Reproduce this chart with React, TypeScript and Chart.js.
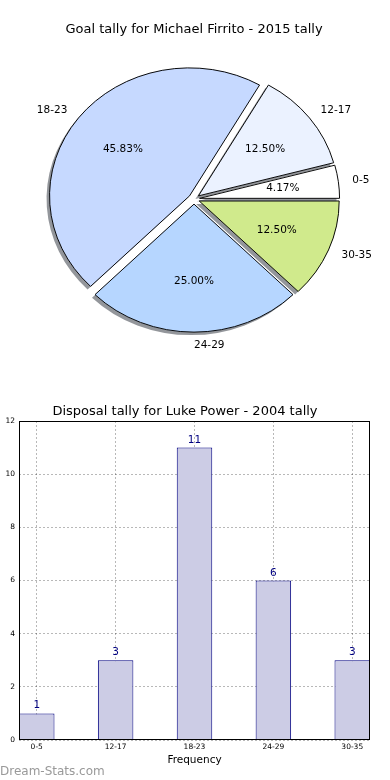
import React, { useEffect, useRef } from 'react';
import { Chart, registerables } from 'chart.js';

Chart.register(...registerables);

const FONT = '"DejaVu Sans", "Liberation Sans", sans-serif';

// ---- Pie data (matplotlib order, counter-clockwise from 3 o'clock) ----
const pieTitle = 'Goal tally for Michael Firrito - 2015 tally';
const pieCategories = ['0-5', '12-17', '18-23', '24-29', '30-35'];
const pieValues = [1, 3, 11, 6, 3];
const pieColors = ['#ffffff', '#ebf2ff', '#c6d9ff', '#b6d6ff', '#d0ea8c'];
const pieExplode = [0.04, 0.04, 0.04, 0.04, 0.04];

// ---- Bar data ----
const barTitle = 'Disposal tally for Luke Power - 2004 tally';
const barCategories = ['0-5', '12-17', '18-23', '24-29', '30-35'];
const barValues = [1, 3, 11, 6, 3];
const barAxisTitle = 'Frequency';
const yTickStep = 2;
const yMax = 12;

const watermark = 'Dream-Stats.com';

const ELLIPSE_Y = 128 / 140;

function rev(a: any[]) {
  return [...a].reverse();
}

const pieLook = {
  id: 'pieLook',
  beforeDatasetsDraw(chart: any) {
    const meta = chart.getDatasetMeta(0);
    const explode = rev(pieExplode);
    meta.data.forEach((arc: any, i: number) => {
      if (arc.__wrapped) return;
      const orig = arc.draw;
      arc.draw = function (c: CanvasRenderingContext2D) {
        const cx = this.x;
        const cy = this.y;
        const mid = (this.startAngle + this.endAngle) / 2;
        const d = explode[i] * this.outerRadius;
        c.save();
        c.translate(cx, cy);
        c.scale(1, ELLIPSE_Y);
        c.translate(-cx, -cy);
        c.translate(Math.cos(mid) * d, Math.sin(mid) * d);
        // shadow pass (fill only)
        c.save();
        c.shadowColor = 'rgba(40,45,55,0.5)';
        c.shadowOffsetX = -3;
        c.shadowOffsetY = 3;
        c.shadowBlur = 0;
        const ghost = Object.create(this);
        ghost.options = { ...this.options, borderWidth: 0 };
        orig.call(ghost, c);
        c.restore();
        // real wedge
        orig.call(this, c);
        c.restore();
      };
      arc.__wrapped = true;
    });
  },
  afterDraw(chart: any) {
    const meta = chart.getDatasetMeta(0);
    const ctx: CanvasRenderingContext2D = chart.ctx;
    const data: number[] = chart.data.datasets[0].data;
    const labels: string[] = chart.data.labels;
    const explode = rev(pieExplode);
    const total = data.reduce((s, v) => s + v, 0);
    ctx.save();
    ctx.fillStyle = '#000';
    ctx.font = `10.5px ${FONT}`;
    ctx.textBaseline = 'middle';
    meta.data.forEach((arc: any, i: number) => {
      const cx = arc.x;
      const cy = arc.y;
      const r = arc.outerRadius;
      const mid = (arc.startAngle + arc.endAngle) / 2;
      const d = explode[i] * r;
      const cs = Math.cos(mid);
      const sn = Math.sin(mid);
      const lr = d + 1.1 * r;
      ctx.textAlign = cs >= -1e-6 ? 'left' : 'right';
      ctx.fillText(labels[i], cx + lr * cs, cy + lr * sn * ELLIPSE_Y);
      const pr = d + 0.6 * r;
      ctx.textAlign = 'center';
      const pct = ((data[i] / total) * 100).toFixed(2) + '%';
      ctx.fillText(pct, cx + pr * cs, cy + pr * sn * ELLIPSE_Y);
    });
    ctx.restore();
  },
};

const barLook = {
  id: 'barLook',
  afterDraw(chart: any) {
    const ctx: CanvasRenderingContext2D = chart.ctx;
    const { left, top, right, bottom } = chart.chartArea;
    ctx.save();
    ctx.strokeStyle = '#000';
    ctx.lineWidth = 1;
    ctx.strokeRect(Math.round(left) + 0.5, Math.round(top) + 0.5, Math.round(right - left) - 1, Math.round(bottom - top) - 1);
    const meta = chart.getDatasetMeta(0);
    ctx.fillStyle = '#000080';
    ctx.font = `10.5px ${FONT}`;
    ctx.textAlign = 'center';
    ctx.textBaseline = 'alphabetic';
    meta.data.forEach((bar: any, i: number) => {
      ctx.fillText(String(barValues[i]), bar.x, bar.y - 5);
    });
    ctx.restore();
  },
};

export default function App() {
  const pieRef = useRef<HTMLCanvasElement>(null);
  const barRef = useRef<HTMLCanvasElement>(null);

  useEffect(() => {
    const pie = new Chart(pieRef.current as HTMLCanvasElement, {
      type: 'pie',
      data: {
        labels: rev(pieCategories),
        datasets: [
          {
            data: rev(pieValues),
            backgroundColor: rev(pieColors),
            borderColor: '#000',
            borderWidth: 1,
          },
        ],
      },
      options: {
        responsive: false,
        animation: false,
        events: [],
        rotation: 90,
        radius: 140,
        layout: { padding: { top: 0, left: 0, right: 2, bottom: 31.6 } },
        plugins: {
          legend: { display: false },
          tooltip: { enabled: false },
          title: {
            display: true,
            text: pieTitle,
            color: '#000',
            font: { family: FONT, size: 13, weight: 'normal' },
            padding: { top: 22, bottom: 2 },
          },
        },
      } as any,
      plugins: [pieLook],
    });

    const gridColor = 'rgba(0,0,0,0.28)';
    const bar = new Chart(barRef.current as HTMLCanvasElement, {
      type: 'bar',
      data: {
        datasets: [
          {
            data: barValues.map((v, i) => ({ x: i, y: v })),
            backgroundColor: 'rgb(204,204,229)',
            borderColor: '#000080',
            borderWidth: 1,
            barPercentage: 0.45,
            categoryPercentage: 1,
          },
        ],
      },
      options: {
        responsive: false,
        animation: false,
        events: [],
        layout: { padding: { top: 0, left: 0, right: 20, bottom: 10 } },
        plugins: {
          legend: { display: false },
          tooltip: { enabled: false },
          title: {
            display: true,
            text: barTitle,
            color: '#000',
            font: { family: FONT, size: 13, weight: 'normal' },
            padding: { top: 14.2, bottom: 1.2 },
          },
        },
        scales: {
          x: {
            type: 'linear',
            min: -0.225,
            max: 4.225,
            offset: false,
            z: 1,
            grid: { offset: false, color: gridColor, drawTicks: false, lineWidth: 1 },
            border: { display: false, dash: [2, 2] },
            afterBuildTicks: (s: any) => {
              s.ticks = barCategories.map((_, i) => ({ value: i }));
            },
            afterFit: (s: any) => {
              s.height = 30;
            },
            ticks: {
              callback: (v: any) => barCategories[v] ?? '',
              color: '#000',
              font: { family: FONT, size: 7.5 },
              padding: 3,
              maxRotation: 0,
              autoSkip: false,
            },
            title: {
              display: true,
              text: barAxisTitle,
              color: '#000',
              font: { family: FONT, size: 10.5 },
              padding: { top: 0, bottom: 3.4 },
            },
          },
          y: {
            type: 'linear',
            min: 0,
            max: yMax,
            z: 1,
            grid: { color: gridColor, drawTicks: false, lineWidth: 1 },
            border: { display: false, dash: [2, 2] },
            afterFit: (s: any) => {
              s.width = 19;
            },
            ticks: {
              stepSize: yTickStep,
              color: '#000',
              font: { family: FONT, size: 7.5 },
              padding: 4,
            },
          },
        },
      } as any,
      plugins: [barLook],
    });

    return () => {
      pie.destroy();
      bar.destroy();
    };
  }, []);

  return (
    <div style={{ position: 'absolute', left: 0, top: 0, width: 390, height: 780, background: '#fff', overflow: 'hidden' }}>
      <canvas ref={pieRef} width={390} height={390} style={{ position: 'absolute', left: 0, top: 0, display: 'block' }} />
      <canvas ref={barRef} width={390} height={390} style={{ position: 'absolute', left: 0, top: 390, display: 'block' }} />
      <div
        style={{
          position: 'absolute',
          left: 0,
          top: 764,
          fontFamily: FONT,
          fontSize: 12,
          lineHeight: '14px',
          color: '#999',
          whiteSpace: 'nowrap',
        }}
      >
        {watermark}
      </div>
    </div>
  );
}
